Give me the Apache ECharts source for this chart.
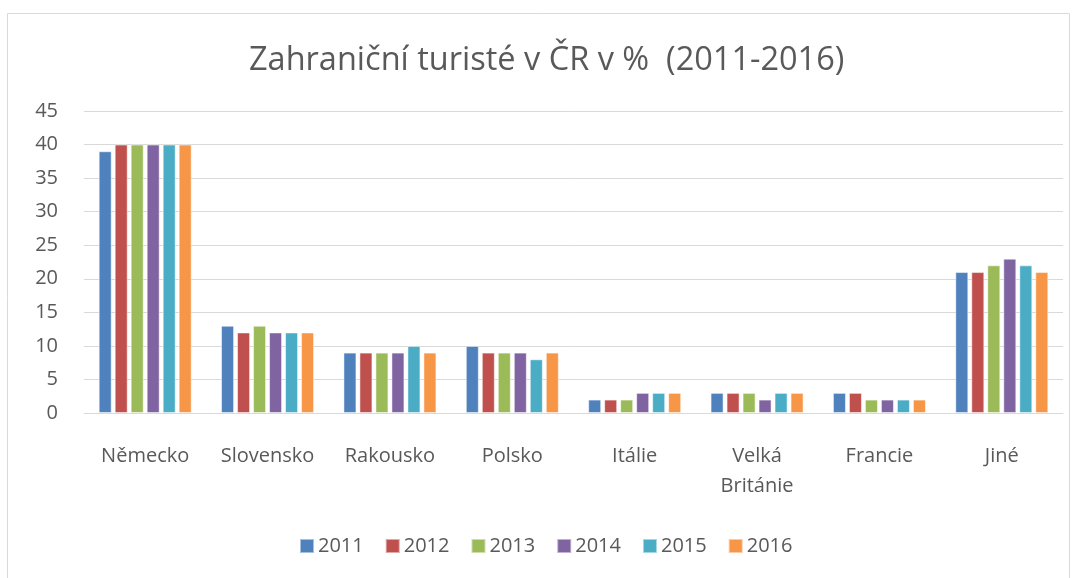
<!DOCTYPE html>
<html><head><meta charset="utf-8">
<script src="https://cdn.jsdelivr.net/npm/echarts@6/dist/echarts.min.js"></script>
<style>html,body{margin:0;padding:0;background:#fff}#c{width:1077px;height:578px}</style>
</head><body><div id="c"></div>
<script>
const categories = ['Německo','Slovensko','Rakousko','Polsko','Itálie','Velká\nBritánie','Francie','Jiné'];
const years = ['2011','2012','2013','2014','2015','2016'];
const colors = ['#4F81BD','#C0504D','#9BBB59','#8064A2','#4BACC6','#F79646'];
const v2011 = [39,13,9,10,2,3,3,21];
const v2012 = [40,12,9,9,2,3,3,21];
const v2013 = [40,13,9,9,2,3,2,22];
const v2014 = [40,12,9,9,3,2,2,23];
const v2015 = [40,12,10,8,3,3,2,22];
const v2016 = [40,12,9,9,3,3,2,21];
const values = [v2011,v2012,v2013,v2014,v2015,v2016];
const yTicks = {min:0,max:45,interval:5};
const font = 'Open Sans, Noto Sans, sans-serif';
const chart = echarts.init(document.getElementById('c'));
chart.setOption({
  animation:false,
  graphic:[{type:'rect',shape:{x:7.5,y:13.5,width:1062,height:570},style:{fill:'none',stroke:'#d9d9d9',lineWidth:1}}],
  title:{text:'Zahraniční turisté v ČR v %  (2011-2016)',left:244,top:39,
    textStyle:{fontFamily:font,fontSize:32.5,fontWeight:'normal',color:'#595959'}},
  legend:{bottom:17,left:294,itemWidth:14,itemHeight:14,itemGap:21,icon:'rect',
    textStyle:{fontFamily:font,fontSize:20,color:'#595959',padding:[0,0,0,-1]},data:years},
  grid:{left:84,right:14,top:111,bottom:165},
  xAxis:{type:'category',data:categories,axisTick:{show:false},
    axisLine:{lineStyle:{color:'#d9d9d9',width:1}},
    axisLabel:{fontFamily:font,fontSize:20,color:'#595959',margin:28,lineHeight:30}},
  yAxis:{type:'value',min:yTicks.min,max:yTicks.max,interval:yTicks.interval,
    axisLine:{show:false},axisTick:{show:false},
    splitLine:{lineStyle:{color:'#d9d9d9',width:1}},
    axisLabel:{fontFamily:font,fontSize:20,color:'#595959',margin:26}},
  series: years.map((y,i)=>({name:y,type:'bar',data:values[i],barGap:'23%',barCategoryGap:'24%',
    itemStyle:{color:colors[i],borderColor:'rgba(255,255,255,0.5)',borderWidth:1}}))
});
</script></body></html>
